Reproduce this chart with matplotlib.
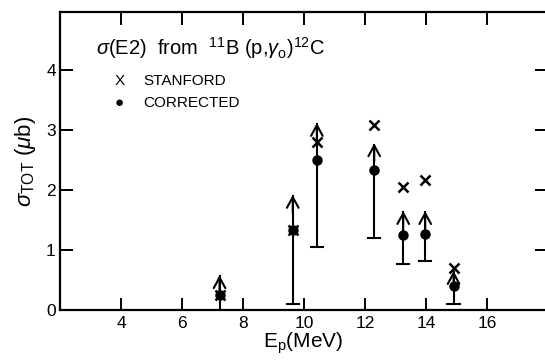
import matplotlib
matplotlib.use("Agg")
import matplotlib.pyplot as plt

# Data
energy = [7.23, 9.63, 10.42, 12.3, 13.25, 13.97, 14.9]
stanford = [0.25, 1.33, 2.80, 3.08, 2.05, 2.17, 0.70]
corrected = [0.25, 1.33, 2.50, 2.33, 1.25, 1.27, 0.40]
lower = [0.0, 0.10, 1.05, 1.20, 0.77, 0.82, 0.10]
upper = [0.58, 1.92, 3.12, 2.78, 1.65, 1.65, 0.65]
xticks = [4, 6, 8, 10, 12, 14, 16]
yticks = [0, 1, 2, 3, 4]

plt.rcParams['font.family'] = ['Liberation Sans', 'DejaVu Sans']
plt.rcParams['mathtext.fontset'] = 'custom'
plt.rcParams['mathtext.rm'] = 'Liberation Sans'
plt.rcParams['mathtext.it'] = 'Liberation Sans:italic'

fig = plt.figure(figsize=(5.45, 3.62), dpi=100)
ax = fig.add_axes([0.110, 0.1436, 0.893, 0.823])
ax.set_xlim(2, 17.95)
ax.set_ylim(0, 4.97)

for s in ['left', 'bottom', 'top']:
    ax.spines[s].set_linewidth(1.6)
ax.spines['right'].set_visible(False)

ax.set_xticks(xticks)
ax.set_yticks(yticks)
ax.tick_params(axis='x', direction='in', length=9, width=1.4, top=True, labelsize=12.5, pad=4)
ax.tick_params(axis='y', direction='in', length=9, width=1.4, right=True, labelsize=12.5, pad=3)

# error bars with lower caps and upward arrows
for x, c, lo, up in zip(energy, corrected, lower, upper):
    ax.plot([x, x], [lo, up - 0.02], color='black', lw=1.5)
    if lo > 0:
        ax.plot([x - 0.2, x + 0.2], [lo, lo], color='black', lw=1.5)
    ax.annotate('', xy=(x, up), xytext=(x, up - 0.3),
                arrowprops=dict(arrowstyle='->,head_length=0.55,head_width=0.3',
                                mutation_scale=14, color='black', lw=1.5,
                                shrinkA=0, shrinkB=0))

ax.plot(energy, corrected, 'o', color='black', ms=6.5)
ax.plot(energy, stanford, 'x', color='black', ms=6.5, mew=1.8)

ax.text(0.075, 0.855, r'$\sigma$(E2)  from  $^{11}$B (p,$\gamma_{\rm o}$)$^{12}$C',
        transform=ax.transAxes, fontsize=14.5)
ax.text(0.113, 0.77, 'X', transform=ax.transAxes, fontsize=11, va='center')
ax.text(0.171, 0.77, 'STANFORD', transform=ax.transAxes, fontsize=11, va='center')
ax.text(0.113, 0.695, '●', transform=ax.transAxes, fontsize=11, va='center')
ax.text(0.171, 0.695, 'CORRECTED', transform=ax.transAxes, fontsize=11, va='center')

ax.set_xlabel(r'E$_{\rm p}$(MeV)', fontsize=15, labelpad=0)
ax.set_ylabel(r'$\sigma_{\rm TOT}$ ($\mu$b)', fontsize=16, labelpad=6)

fig.savefig('out.png', dpi=100)
